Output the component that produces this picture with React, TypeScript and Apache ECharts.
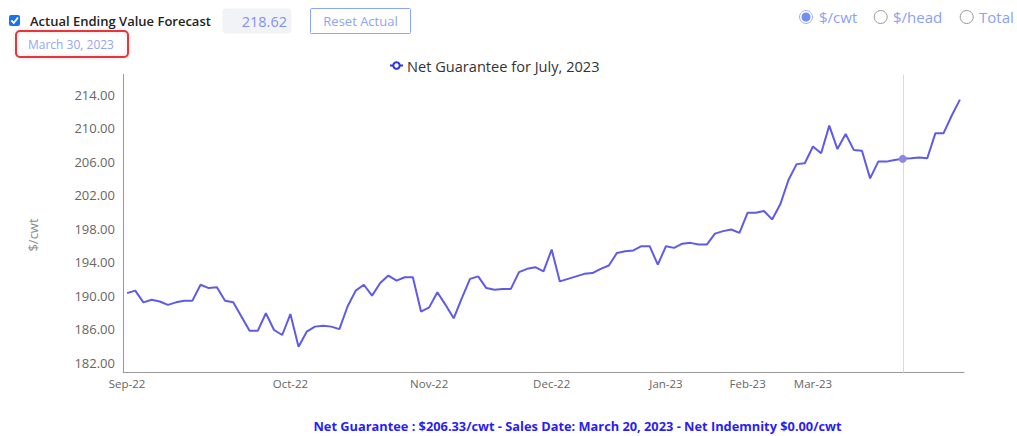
import React, { useEffect, useRef } from "react";
import * as echarts from "echarts";

const netGuarantee: number[] = [
  190.3, 190.6, 189.2, 189.5, 189.3, 188.9, 189.2, 189.4, 189.4, 191.3,
  190.9, 191.0, 189.4, 189.2, 187.5, 185.8, 185.8, 187.9, 185.9, 185.3,
  187.8, 183.9, 185.7, 186.3, 186.4, 186.3, 186.0, 188.7, 190.6, 191.3,
  190.0, 191.5, 192.4, 191.8, 192.2, 192.2, 188.1, 188.6, 190.4, 188.9,
  187.3, 189.7, 192.0, 192.3, 190.9, 190.7, 190.8, 190.8, 192.8, 193.2,
  193.4, 192.9, 195.5, 191.7, 192.0, 192.3, 192.6, 192.7, 193.2, 193.6,
  195.1, 195.3, 195.4, 195.9, 195.9, 193.7, 195.9, 195.7, 196.2, 196.3,
  196.1, 196.1, 197.4, 197.7, 197.9, 197.5, 199.9, 199.9, 200.1, 199.1,
  200.9, 203.8, 205.7, 205.8, 207.8, 207.0, 210.3, 207.5, 209.3, 207.4,
  207.3, 204.0, 206.0, 206.0, 206.2, 206.33, 206.4, 206.5, 206.4, 209.4,
  209.4, 211.5, 213.4,
];
const categories: string[] = netGuarantee.map((_, i) => String(i));
const monthTickIndex: number[] = [0, 20, 37, 52, 66, 76, 84];
const monthTickLabels: string[] = ["Sep-22", "Oct-22", "Nov-22", "Dec-22", "Jan-23", "Feb-23", "Mar-23"];
const yTickStart = 182;
const yTickStep = 4;
const selectedIndex = 95;
const selectedValue = 206.33;
const seriesName = "Net Guarantee for July, 2023";
const footerText = "Net Guarantee : $206.33/cwt - Sales Date: March 20, 2023 - Net Indemnity $0.00/cwt";

const FONT = "'Open Sans', 'Noto Sans', sans-serif";

export default function App() {
  const ref = useRef<HTMLDivElement>(null);
  useEffect(() => {
    if (!ref.current) return;
    const chart = echarts.init(ref.current, undefined, { renderer: "svg" });
    const option: any = {
      animation: false,
      backgroundColor: "#ffffff",
      grid: { left: 123, right: 53, top: 74.5, bottom: 63.3 },
      legend: {
        left: 389,
        top: 58,
        padding: 0,
        itemWidth: 13,
        itemHeight: 8,
        itemGap: 10,
        data: [seriesName],
        textStyle: { color: "#333", fontSize: 14.6, fontFamily: FONT, padding: [0, 0, 0, -1] },
        lineStyle: { color: "#2b35dc", width: 2 },
        itemStyle: { color: "#2b35dc", borderColor: "#2b35dc" },
      },
      xAxis: {
        type: "category",
        data: categories,
        boundaryGap: true,
        axisLine: { show: true, lineStyle: { color: "#999", width: 1 } },
        axisTick: { show: false },
        splitLine: { show: false },
        axisLabel: {
          interval: (index: number) => monthTickIndex.includes(index),
          formatter: (_v: string, index: number) => {
            const k = monthTickIndex.indexOf(index);
            return k >= 0 ? monthTickLabels[k] : "";
          },
          color: "#666",
          fontSize: 11.5,
          fontFamily: "'Liberation Sans Narrow', 'Open Sans', sans-serif",
          margin: 5,
        },
      },
      yAxis: {
        type: "value",
        min: 180.8,
        max: 216.4,
        interval: 0.4,
        axisLine: { show: true, lineStyle: { color: "#999", width: 1 } },
        axisTick: { show: false },
        splitLine: { show: false },
        axisLabel: {
          color: "#666",
          fontSize: 13,
          fontFamily: FONT,
          margin: 8,
          formatter: (v: number) => {
            const k = (v - yTickStart) / yTickStep;
            return Math.abs(k - Math.round(k)) < 1e-6 ? v.toFixed(2) : "";
          },
        },
      },
      series: [
        {
          name: seriesName,
          type: "line",
          data: netGuarantee,
          symbol: "emptyCircle",
          symbolSize: 6,
          showSymbol: false,
          color: "#5f5ae8",
          lineStyle: { color: "#5f5ae8", width: 2 },
          markLine: {
            silent: true,
            symbol: "none",
            label: { show: false },
            lineStyle: { color: "#d9d9d9", type: "solid", width: 1 },
            data: [{ xAxis: selectedIndex }],
          },
          markPoint: {
            silent: true,
            symbol: "circle",
            symbolSize: 8,
            label: { show: false },
            itemStyle: { color: "#8c87e3" },
            data: [{ coord: [selectedIndex, selectedValue] }],
          },
        },
      ],
      graphic: [
        // checkbox
        { type: "rect", shape: { x: 9, y: 15, width: 11, height: 11, r: 2 }, style: { fill: "#1a73e8" } },
        {
          type: "polyline",
          shape: { points: [[11.3, 20.5], [13.8, 23], [18, 17.5]] },
          style: { stroke: "#fff", lineWidth: 1.8, fill: "none" },
        },
        {
          type: "text", x: 30, y: 21,
          style: { text: "Actual Ending Value Forecast", fill: "#222", fontSize: 13, fontWeight: 600, fontFamily: FONT, verticalAlign: "middle" },
        },
        // input box
        { type: "rect", shape: { x: 222.5, y: 8.5, width: 69, height: 25, r: 4 }, style: { fill: "#f1f3f6" } },
        {
          type: "text", x: 287, y: 21,
          style: { text: "218.62", fill: "#8193ee", fontSize: 14.5, fontFamily: FONT, align: "right", verticalAlign: "middle" },
        },
        // reset button
        { type: "rect", shape: { x: 310.5, y: 8.5, width: 100, height: 25, r: 1 }, style: { fill: "#fff", stroke: "#8ea6f8", lineWidth: 1 } },
        {
          type: "text", x: 360.5, y: 21,
          style: { text: "Reset Actual", fill: "#8fa3f0", fontSize: 13, fontFamily: FONT, align: "center", verticalAlign: "middle" },
        },
        // date
        {
          type: "text", x: 28, y: 44,
          style: { text: "March 30, 2023", fill: "#94a6f5", fontSize: 12, fontFamily: FONT, verticalAlign: "middle" },
        },
        {
          type: "rect", shape: { x: 16, y: 31, width: 112, height: 26, r: 4 },
          style: { fill: "none", stroke: "#e8343a", lineWidth: 2, shadowBlur: 4, shadowColor: "rgba(0,0,0,0.15)" },
        },
        // radios
        { type: "circle", shape: { cx: 806, cy: 17, r: 6.5 }, style: { fill: "#fff", stroke: "#9fb3f5", lineWidth: 1 } },
        { type: "circle", shape: { cx: 806, cy: 17, r: 4.5 }, style: { fill: "#6f8ff5" } },
        {
          type: "text", x: 819, y: 17,
          style: { text: "$/cwt", fill: "#8aa1f5", fontSize: 15, fontFamily: FONT, verticalAlign: "middle" },
        },
        { type: "circle", shape: { cx: 880.7, cy: 17, r: 6.5 }, style: { fill: "#fff", stroke: "#9a9a9a", lineWidth: 1 } },
        {
          type: "text", x: 893, y: 17,
          style: { text: "$/head", fill: "#8aa1f5", fontSize: 15, fontFamily: FONT, verticalAlign: "middle" },
        },
        { type: "circle", shape: { cx: 966.7, cy: 17, r: 6.5 }, style: { fill: "#fff", stroke: "#9a9a9a", lineWidth: 1 } },
        {
          type: "text", x: 979, y: 17,
          style: { text: "Total", fill: "#8aa1f5", fontSize: 15, fontFamily: FONT, verticalAlign: "middle" },
        },
        // y axis name
        {
          type: "text", x: 33, y: 235, rotation: Math.PI / 2,
          style: { text: "$/cwt", fill: "#888", fontSize: 13, fontFamily: FONT, align: "center", verticalAlign: "middle" },
        },
        // footer
        {
          type: "text", x: 577.5, y: 426,
          style: { text: footerText, fill: "#2a1cf5", fontSize: 12.8, fontWeight: "bold", fontFamily: FONT, align: "center", verticalAlign: "middle" },
        },
      ],
    };
    chart.setOption(option);
    return () => chart.dispose();
  }, []);
  return (
    <div
      ref={ref}
      style={{ position: "fixed", left: 0, top: 0, width: 1017, height: 436, background: "#fff" }}
    />
  );
}
